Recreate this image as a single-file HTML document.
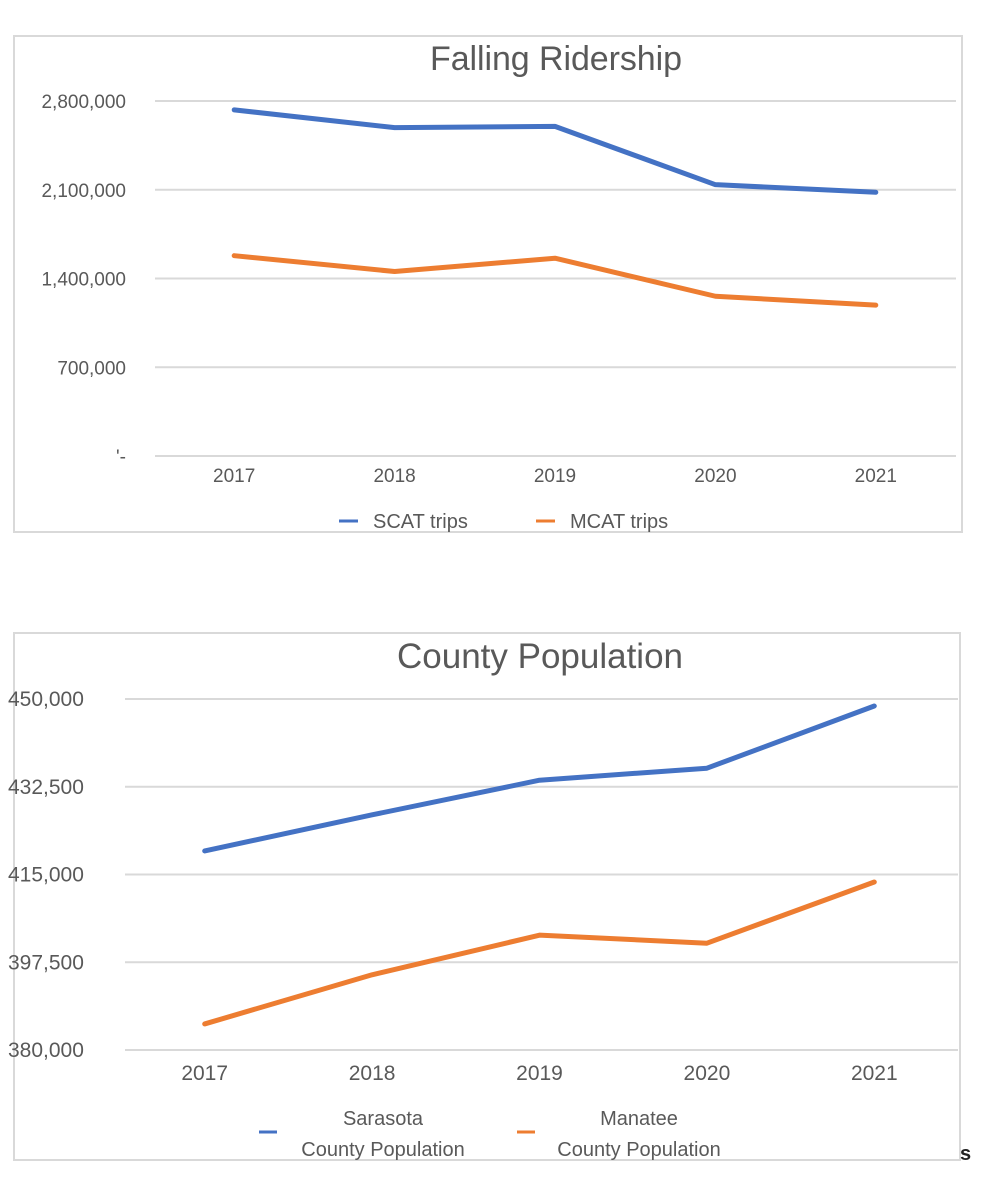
<!DOCTYPE html>
<html><head><meta charset="utf-8"><style>
body{margin:0;background:#fff;}
svg{display:block;font-family:"Liberation Sans",sans-serif;}
</style></head><body>
<svg width="999" height="1187" viewBox="0 0 999 1187">
<g id="c1">
<rect x="14" y="36" width="948" height="496" fill="#fff" stroke="#d9d9d9" stroke-width="2"/>
<text x="556" y="70" text-anchor="middle" font-size="34" fill="#595959" textLength="252">Falling Ridership</text>
</g>
<g id="c2">
<rect x="14" y="633" width="946" height="527" fill="#fff" stroke="#d9d9d9" stroke-width="2"/>
<text x="540" y="668" text-anchor="middle" font-size="35" fill="#595959" textLength="286">County Population</text>
</g>
<text x="960" y="1160" font-size="20" font-weight="bold" fill="#222">s</text>
</svg>
<script>
const cats1 = ["2017","2018","2019","2020","2021"];
const scat = [2730000,2590000,2600000,2140000,2080000];
const mcat = [1580000,1455000,1560000,1260000,1190000];
const ticks1 = [0,700000,1400000,2100000,2800000];
const tickLabels1 = ["'-","700,000","1,400,000","2,100,000","2,800,000"];
const cats2 = ["2017","2018","2019","2020","2021"];
const sarasota = [419700,426900,433800,436200,448600];
const manatee = [385200,395000,402900,401300,413500];
const ticks2 = [380000,397500,415000,432500,450000];
const tickLabels2 = ["380,000","397,500","415,000","432,500","450,000"];
const NS="http://www.w3.org/2000/svg";
function mk(parent,tag,attrs,text){const e=document.createElementNS(NS,tag);for(const k in attrs)e.setAttribute(k,attrs[k]);if(text!==undefined)e.textContent=text;parent.appendChild(e);return e;}
function chart(g,cats,series,colors,ticks,labels,o){
  const x=i=>o.left+(i+0.5)*(o.right-o.left)/cats.length;
  const y=v=>o.bottom-(v-ticks[0])/(ticks[ticks.length-1]-ticks[0])*(o.bottom-o.top);
  ticks.forEach((t,i)=>{
    const l=mk(g,"line",{x1:o.gx,x2:o.right,y1:y(t),y2:y(t),stroke:"#d9d9d9","stroke-width":2});
    
    
    const tx=mk(g,"text",{x:o.lx,y:y(t)+7,"text-anchor":o.anchor,"font-size":o.fs,fill:"#595959"},labels[i]);
    
    
  });
  cats.forEach((c,i)=>{
    const tx=mk(g,"text",{x:x(i),y:o.bottom+o.xoff,"text-anchor":"middle","font-size":o.fs,fill:"#595959"},c);
    
    
  });
  series.forEach((s,k)=>{
    const p=mk(g,"polyline",{points:s.map((v,i)=>x(i)+","+y(v)).join(" "),fill:"none",stroke:colors[k],"stroke-width":5,"stroke-linejoin":"round","stroke-linecap":"round"});
    
    
  });
}
const g1=document.getElementById("c1"),g2=document.getElementById("c2");
chart(g1,cats1,[scat,mcat],["#4472c4","#ed7d31"],ticks1,tickLabels1,{left:154,right:956,top:101,bottom:456,gx:155,lx:126,anchor:"end",xoff:26,fs:19});
chart(g2,cats2,[sarasota,manatee],["#4472c4","#ed7d31"],ticks2,tickLabels2,{left:121,right:958,top:699,bottom:1050,gx:125,lx:8,anchor:"start",xoff:30,fs:21});
let e;
e=mk(g1,"line",{x1:339,x2:358,y1:521,y2:521,stroke:"#4472c4","stroke-width":3});


e=mk(g1,"text",{x:373,y:528,"font-size":20,fill:"#595959"},"SCAT trips");


e=mk(g1,"line",{x1:536,x2:555,y1:521,y2:521,stroke:"#ed7d31","stroke-width":3});


e=mk(g1,"text",{x:570,y:528,"font-size":20,fill:"#595959"},"MCAT trips");


e=mk(g2,"line",{x1:259,x2:277,y1:1132,y2:1132,stroke:"#4472c4","stroke-width":3});


e=mk(g2,"text",{x:383,y:1125,"text-anchor":"middle","font-size":20,fill:"#595959"},"Sarasota");


e=mk(g2,"text",{x:383,y:1156,"text-anchor":"middle","font-size":20,fill:"#595959"},"County Population");


e=mk(g2,"line",{x1:517,x2:535,y1:1132,y2:1132,stroke:"#ed7d31","stroke-width":3});


e=mk(g2,"text",{x:639,y:1125,"text-anchor":"middle","font-size":20,fill:"#595959"},"Manatee");


e=mk(g2,"text",{x:639,y:1156,"text-anchor":"middle","font-size":20,fill:"#595959"},"County Population");


</script>
</body></html>
